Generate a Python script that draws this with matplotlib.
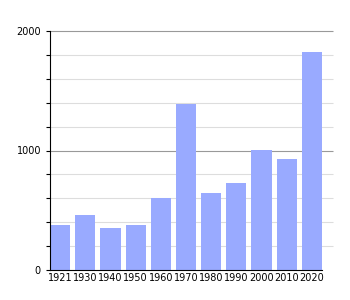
import matplotlib
matplotlib.use('Agg')
import matplotlib.pyplot as plt
from matplotlib.ticker import MultipleLocator

years = ['1921', '1930', '1940', '1950', '1960', '1970', '1980', '1990', '2000', '2010', '2020']
population = [377, 460, 351, 377, 602, 1389, 644, 728, 1004, 929, 1824]

fig = plt.figure(figsize=(3.5, 3.0), dpi=100)
ax = fig.add_axes([50 / 350, 30 / 300, 272 / 350, 239 / 300])

x = list(range(len(years)))

# grid lines: light every 200, darker at 1000s
for v in range(200, 2001, 200):
    col = '#999999' if v % 1000 == 0 else '#dddddd'
    ax.hlines(v, -0.4, 10.85, colors=col, linewidth=0.8, zorder=0, clip_on=False)

ax.bar(x, population, width=0.8, color='#99aaff', zorder=2)

ax.set_xlim(-0.4, 10.4)
ax.set_ylim(0, 2000)
ax.set_xticks(x)
ax.set_xticklabels(years, fontsize=7)
ax.yaxis.set_major_locator(MultipleLocator(1000))
ax.yaxis.set_minor_locator(MultipleLocator(200))
ax.tick_params(axis='y', which='both', labelsize=7, length=3, width=0.8, direction='out')
ax.tick_params(axis='x', length=0, pad=2)

for s in ['top', 'right']:
    ax.spines[s].set_visible(False)
ax.spines['left'].set_linewidth(0.8)
ax.spines['bottom'].set_linewidth(0.8)

plt.savefig('out.png', dpi=100)
plt.close()
